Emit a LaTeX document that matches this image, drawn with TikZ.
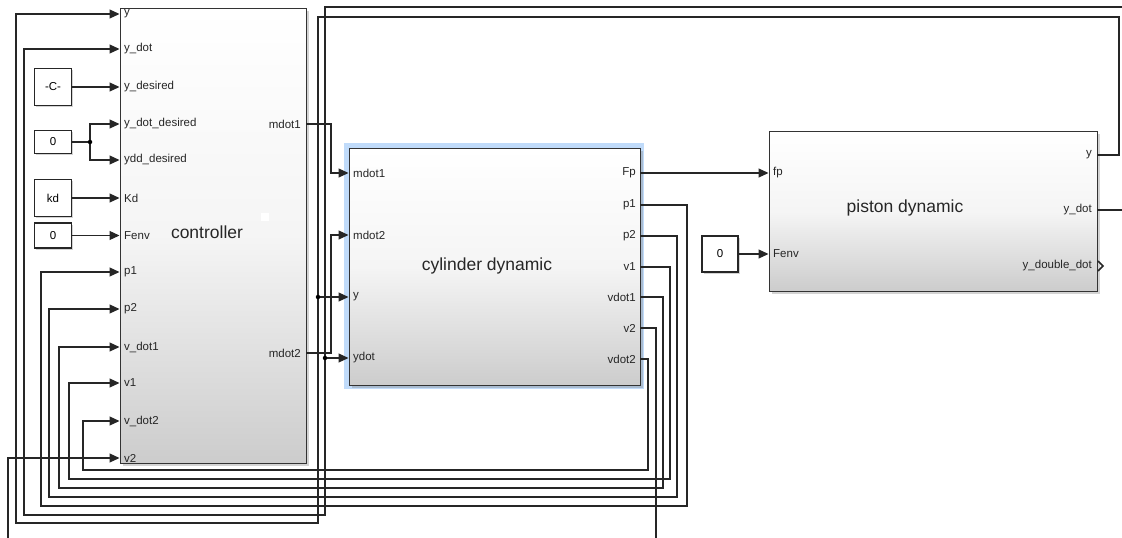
\documentclass[tikz,border=0pt]{standalone}
\usepackage{fontspec}
\setmainfont{Liberation Sans}
\usetikzlibrary{arrows.meta,calc,shadows}
\usetikzlibrary{positioning}
\definecolor{selblue}{RGB}{192,219,250}

\tikzset{
  blk/.style={draw=black!80, line width=1.4pt, top color=white, bottom color=black!20,
    middle color=black!4, minimum width=0pt, anchor=north west,
    drop shadow={shadow xshift=2pt, shadow yshift=-2pt, opacity=0.35}},
  cst/.style={draw=black!85, line width=1.2pt, fill=white, inner sep=0pt,
    font=\fontsize{11.5}{13}\selectfont,
    drop shadow={shadow xshift=1.5pt, shadow yshift=-1.5pt, opacity=0.35}},
  sig/.style={draw=black!85, line width=1.2pt, -{Triangle[length=10pt,width=9pt]}},
  wire/.style={draw=black!85, line width=1.2pt},
  plbl/.style={font=\fontsize{11.5}{13}\selectfont, text=black!85, inner sep=0pt},
  ttl/.style={font=\fontsize{17.5}{20}\selectfont, text=black!85},
  junc/.style={fill=black, circle, inner sep=0pt, minimum size=4.5pt}
}

\begin{document}
\begin{tikzpicture}[x=1pt, y=-1pt, line cap=butt, line join=miter]
  \useasboundingbox (0,0) rectangle (1122,538);
  \clip (0,0) rectangle (1122,538);

  % Blocks
  \node[blk, minimum width=186pt, minimum height=455pt] (ctrl) at (120,8) {};
  \fill[selblue] (344,143) rectangle (644,389);
  \node[blk, minimum width=291pt, minimum height=237pt] (cyl) at (349,148) {};
  \node[blk, minimum width=328pt, minimum height=160pt] (pist) at (769,131) {};
  \fill[white] (261,213) rectangle (269,221);

  \node[ttl] (ctrl-ttl) at (207,232) {controller};
  \node[ttl] (cyl-ttl) at (487,266) {cylinder dynamic};
  \node[ttl] (pist-ttl) at (905,208) {piston dynamic};

  % Constants
  \node[cst, minimum width=37pt, minimum height=37pt] (cC) at (53,87) {-C-};
  \node[cst, minimum width=37pt, minimum height=23pt] (c0a) at (53,142) {0};
  \node[cst, minimum width=37pt, minimum height=37pt] (ckd) at (53,198) {kd};
  \node[cst, minimum width=37pt, minimum height=25pt] (c0b) at (53,235.5) {0};
  \node[cst, minimum width=36pt, minimum height=36pt] (c0c) at (720,254) {0};

  % Ports of controller
  \foreach \nm/\yy/\lb in {y/14/y, ydot/49/y\_dot, ydes/87/y\_desired,
      yddes/124/y\_dot\_desired, ydd/160/ydd\_desired, kd/198/Kd, fenv/235.5/Fenv,
      p1/272/p1, p2/309/p2, vd1/347/v\_dot1, v1/383/v1, vd2/421/v\_dot2, v2/458/v2}{
    \coordinate (ci-\nm) at (119.5,\yy);
    \node[plbl, anchor=west] (lci-\nm) at (124,\yy) {\lb};
  }
  \foreach \nm/\yy/\lb in {m1/124/mdot1, m2/353/mdot2}{
    \coordinate (co-\nm) at (306,\yy);
    \node[plbl, anchor=east] (lco-\nm) at (301,\yy) {\lb};
  }

  % Ports of cylinder
  \foreach \nm/\yy/\lb in {m1/173/mdot1, m2/235/mdot2, y/297/y, ydot/358/ydot}{
    \coordinate (cyi-\nm) at (348.5,\yy);
    \node[plbl, anchor=west] (lcyi-\nm) at (353,\yy) {\lb};
  }
  \foreach \nm/\yy/\lb in {fp/173/Fp, p1/205/p1, p2/236/p2, v1/267/v1,
      vd1/297/vdot1, v2/328/v2, vd2/359/vdot2}{
    \coordinate (cyo-\nm) at (640,\yy);
    \node[plbl, anchor=east] (lcyo-\nm) at (636,\yy) {\lb};
  }

  % Ports of piston
  \foreach \nm/\yy/\lb in {fp/173/fp, fenv/254/Fenv}{
    \coordinate (pi-\nm) at (768.5,\yy);
    \node[plbl, anchor=west] (lpi-\nm) at (773,\yy) {\lb};
  }
  \foreach \nm/\yy/\lb in {y/155/y, yd/210/y\_dot, ydd/266/y\_double\_dot}{
    \coordinate (po-\nm) at (1097,\yy);
    \node[plbl, anchor=east] (lpo-\nm) at (1092,\yy) {\lb};
  }
  \draw[wire, line width=1.6pt] (1098,261) -- (1103,266) -- (1098,271);

  % Constants to controller
  \draw[sig] (cC.east) -- (ci-ydes);
  \coordinate (br0) at (90,142);
  \draw[wire] (c0a.east) -- (br0);
  \draw[sig] (br0) |- (ci-yddes);
  \draw[sig] (br0) |- (ci-ydd);
  \node[junc] at (br0) {};
  \draw[sig] (ckd.east) -- (ci-kd);
  \draw[sig] (c0b.east) -- (ci-fenv);

  % Controller to cylinder
  \draw[sig] (co-m1) -- ++(25,0) |- (cyi-m1);
  \draw[sig] (co-m2) -- ++(25,0) |- (cyi-m2);

  % Cylinder to piston
  \draw[sig] (cyo-fp) -- (pi-fp);
  \draw[sig] (c0c.east) -- (pi-fenv);

  % Feedback of y and y_dot
  \draw[sig] (po-y) -| (1119,17) -- (318,17) -- (318,523) -- (16,523) |- (ci-y);
  \draw[sig] (po-yd) -| (1140,7) -- (325,7) -- (325,515) -- (24,515) |- (ci-ydot);
  \coordinate (bry) at (318,297);
  \coordinate (bryd) at (325,358);
  \draw[sig] (bry) -- (cyi-y);
  \draw[sig] (bryd) -- (cyi-ydot);
  \node[junc] at (bry) {};
  \node[junc] at (bryd) {};

  % Cylinder states back to controller
  \foreach \src/\xa/\yb/\xc in {p1/687/506/41, p2/677/497/49, v1/670/479/69,
      vd1/663/488/59, v2/656/550/8, vd2/648/470/83}{
    \draw[sig] (cyo-\src) -| (\xa,\yb) -- (\xc,\yb) |- (ci-\src);
  }
\end{tikzpicture}
\end{document}
